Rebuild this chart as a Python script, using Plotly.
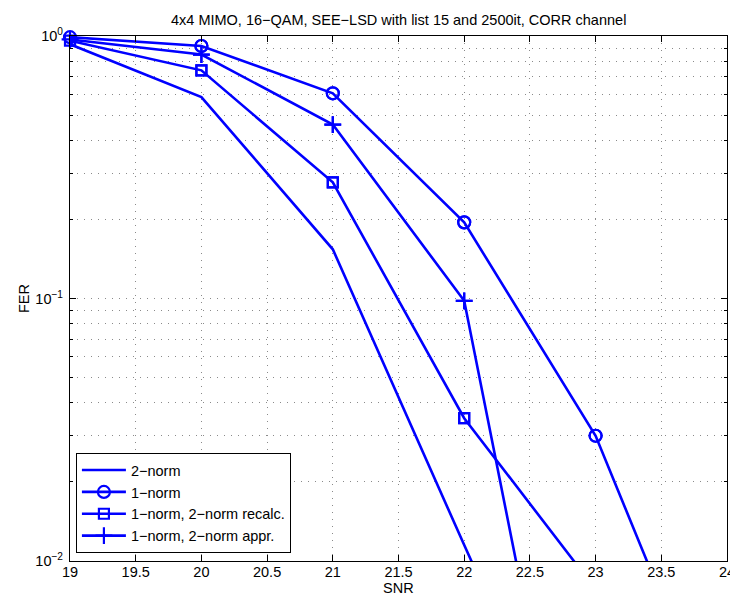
import plotly.graph_objects as go

snr = [19, 20, 21, 22, 23, 24]
fer_2norm = [0.93, 0.585, 0.154, 0.0115, 0.0009, 0.00008]
fer_1norm = [0.99, 0.916, 0.605, 0.195, 0.030, 0.0018]
fer_recalc = [0.96, 0.74, 0.277, 0.035, 0.0078, 0.0009]
fer_appr = [0.97, 0.85, 0.46, 0.098, 0.0003, 0.00003]

names = ["2−norm", "1−norm", "1−norm, 2−norm recalc.", "1−norm, 2−norm appr."]
symbols = [None, "circle-open", "square-open", "cross-thin-open"]
sizes = [0, 12, 10, 12]
series = [fer_2norm, fer_1norm, fer_recalc, fer_appr]

x_ticks = [19, 19.5, 20, 20.5, 21, 21.5, 22, 22.5, 23, 23.5, 24]
x_ticktext = ["19", "19.5", "20", "20.5", "21", "21.5", "22", "22.5", "23", "23.5", "24"]
y_ticks = [0.01, 0.1, 1]
y_ticktext = ["10<sup>−2</sup>", "10<sup>−1</sup>", "10<sup>0</sup>"]

BLUE = "#0000FF"
FONT = "Liberation Sans, Arial, Helvetica, sans-serif"
GRID = "#8a8a8a"
DASH = "1px,6px"

fig = go.Figure()
for name, ys, sym, sz in zip(names, series, symbols, sizes):
    if sym is None:
        fig.add_trace(go.Scatter(x=snr, y=ys, mode="lines", name=name,
                                 line=dict(color=BLUE, width=2.6)))
    else:
        fig.add_trace(go.Scatter(x=snr, y=ys, mode="lines+markers", name=name,
                                 line=dict(color=BLUE, width=2.6),
                                 marker=dict(symbol=sym, size=sz, color=BLUE,
                                             line=dict(color=BLUE, width=2.2))))
        xs_in = [x for x, y in zip(snr, ys) if y >= 0.01]
        ys_in = [y for y in ys if y >= 0.01]
        fig.add_trace(go.Scatter(x=xs_in, y=ys_in, mode="markers", showlegend=False,
                                 cliponaxis=False, hoverinfo="skip",
                                 marker=dict(symbol=sym, size=sz, color=BLUE,
                                             line=dict(color=BLUE, width=2.2))))

fig.update_layout(
    width=738, height=595,
    margin=dict(l=62, r=11, t=28, b=42),
    paper_bgcolor="white", plot_bgcolor="white",
    font=dict(family=FONT, size=14, color="black"),
    showlegend=True,
    legend=dict(x=0.009, y=0.015, xanchor="left", yanchor="bottom",
                bgcolor="white", bordercolor="black", borderwidth=1,
                font=dict(family=FONT, size=14.5, color="black"),
                tracegroupgap=0, itemwidth=44),
    annotations=[
        dict(text="4x4 MIMO, 16−QAM, SEE−LSD with list 15 and 2500it, CORR channel",
             xref="paper", yref="paper", x=0.5, y=1 + 16 / 525,
             xanchor="center", yanchor="middle", showarrow=False,
             font=dict(family=FONT, size=14.5, color="black")),
        dict(text="SNR", xref="paper", yref="paper", x=0.5, y=-(580 - 553) / 525,
             xanchor="center", yanchor="middle", showarrow=False,
             font=dict(family=FONT, size=14.5, color="black")),
        dict(text="FER", xref="paper", yref="paper", x=-(62 - 15) / 665, y=0.5,
             xanchor="center", yanchor="middle", showarrow=False, textangle=-90,
             font=dict(family=FONT, size=14.5, color="black")),
    ],
)

fig.update_xaxes(
    range=[19, 24], tickmode="array", tickvals=x_ticks, ticktext=x_ticktext,
    ticks="inside", ticklen=6, tickcolor="black", tickwidth=1,
    showline=True, linecolor="black", linewidth=1.2, mirror="ticks",
    showgrid=True, gridcolor=GRID, griddash=DASH, gridwidth=1,
    zeroline=False, ticklabelstandoff=-3,
    tickfont=dict(family=FONT, size=14.5),
)

fig.update_yaxes(
    type="log", range=[-2, 0],
    tickmode="array", tickvals=y_ticks, ticktext=y_ticktext,
    ticks="inside", ticklen=6, tickcolor="black", tickwidth=1,
    showline=True, linecolor="black", linewidth=1.2, mirror="ticks",
    showgrid=True, gridcolor=GRID, griddash=DASH, gridwidth=1,
    zeroline=False, ticklabelstandoff=3,
    tickfont=dict(family=FONT, size=14.5),
    minor=dict(ticks="inside", ticklen=3, tickcolor="black",
               tickvals=[0.02, 0.03, 0.04, 0.05, 0.06, 0.07, 0.08, 0.09,
                         0.2, 0.3, 0.4, 0.5, 0.6, 0.7, 0.8, 0.9],
               showgrid=True, gridcolor=GRID, griddash=DASH, gridwidth=1),
)

fig.write_html("out.html")
